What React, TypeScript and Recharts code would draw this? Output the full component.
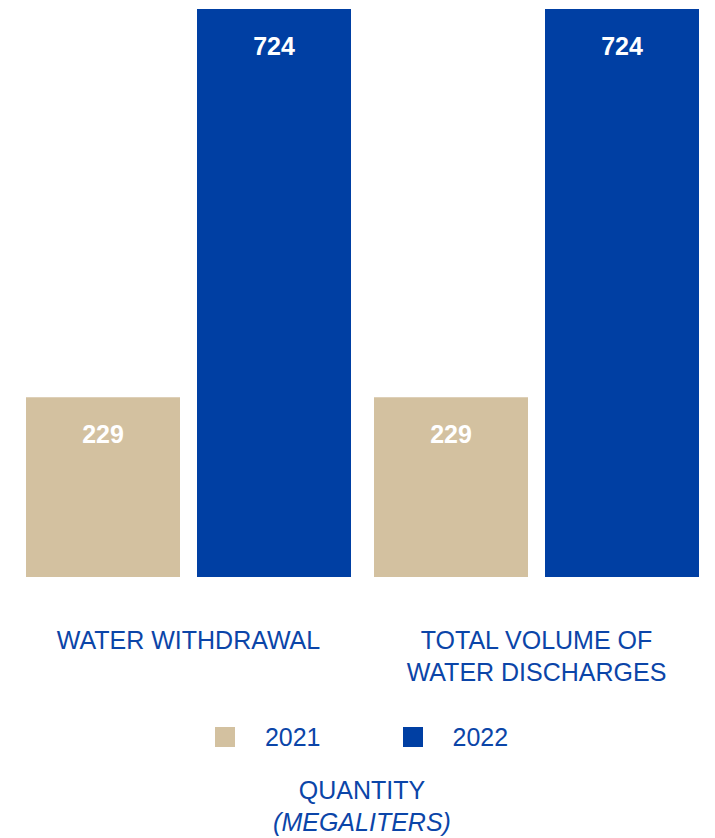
import { BarChart, Bar, XAxis, YAxis, LabelList } from 'recharts';

const categories = ['WATER WITHDRAWAL', 'TOTAL VOLUME OF\nWATER DISCHARGES'];
const values2021 = [229, 229];
const values2022 = [724, 724];
const years = ['2021', '2022'];

const colors = ['#D3C1A0', '#003FA3'];
const textBlue = '#0B45A8';
const font = '"Liberation Sans", Arial, sans-serif';

const data = categories.map((name, i) => ({
  name,
  y2021: values2021[i],
  y2022: values2022[i],
}));

const CategoryTick = ({ x, y, payload }: any) => {
  const lines = String(payload.value).split('\n');
  return (
    <text x={x} y={y + 63} textAnchor="middle" fill={textBlue} fontSize={25} fontFamily={font}>
      {lines.map((line, i) => (
        <tspan key={i} x={x} dy={i === 0 ? 0 : 32} dominantBaseline="central">
          {line}
        </tspan>
      ))}
    </text>
  );
};

const ValueLabel = ({ x, y, width, value }: any) => (
  <text
    x={x + width / 2}
    y={y + 37}
    textAnchor="middle"
    dominantBaseline="central"
    fill="#fff"
    fontSize={25}
    fontWeight="bold"
    fontFamily={font}
  >
    {value}
  </text>
);

export default function App() {
  return (
    <div style={{ position: 'absolute', left: 0, top: 0, width: 715, height: 838, background: '#fff', fontFamily: font }}>
      <BarChart
        width={715}
        height={700}
        data={data}
        margin={{ top: 9, right: 4.5, left: 14.5, bottom: 0 }}
        barCategoryGap={11.5}
        barGap={17}
      >
        <XAxis
          dataKey="name"
          height={123}
          axisLine={false}
          tickLine={false}
          tickSize={0}
          tickMargin={0}
          interval={0}
          tick={<CategoryTick />}
        />
        <YAxis hide domain={[0, 724]} />
        <Bar dataKey="y2021" fill={colors[0]} isAnimationActive={false}>
          <LabelList dataKey="y2021" content={<ValueLabel />} />
        </Bar>
        <Bar dataKey="y2022" fill={colors[1]} isAnimationActive={false}>
          <LabelList dataKey="y2022" content={<ValueLabel />} />
        </Bar>
      </BarChart>
      <div style={{ display: 'flex', justifyContent: 'center', alignItems: 'center', height: 74, color: textBlue, fontSize: 25, paddingLeft: 8 }}>
        {years.map((yr, i) => (
          <div key={yr} style={{ display: 'flex', alignItems: 'center', marginLeft: i === 0 ? 0 : 82 }}>
            <span style={{ display: 'inline-block', width: 20, height: 20, background: colors[i], marginRight: 30 }} />
            <span>{yr}</span>
          </div>
        ))}
      </div>
      <div style={{ textAlign: 'center', color: textBlue, fontSize: 25, lineHeight: '32px', marginTop: 0, paddingLeft: 9 }}>
        <div>QUANTITY</div>
        <div style={{ fontStyle: 'italic' }}>(MEGALITERS)</div>
      </div>
    </div>
  );
}
